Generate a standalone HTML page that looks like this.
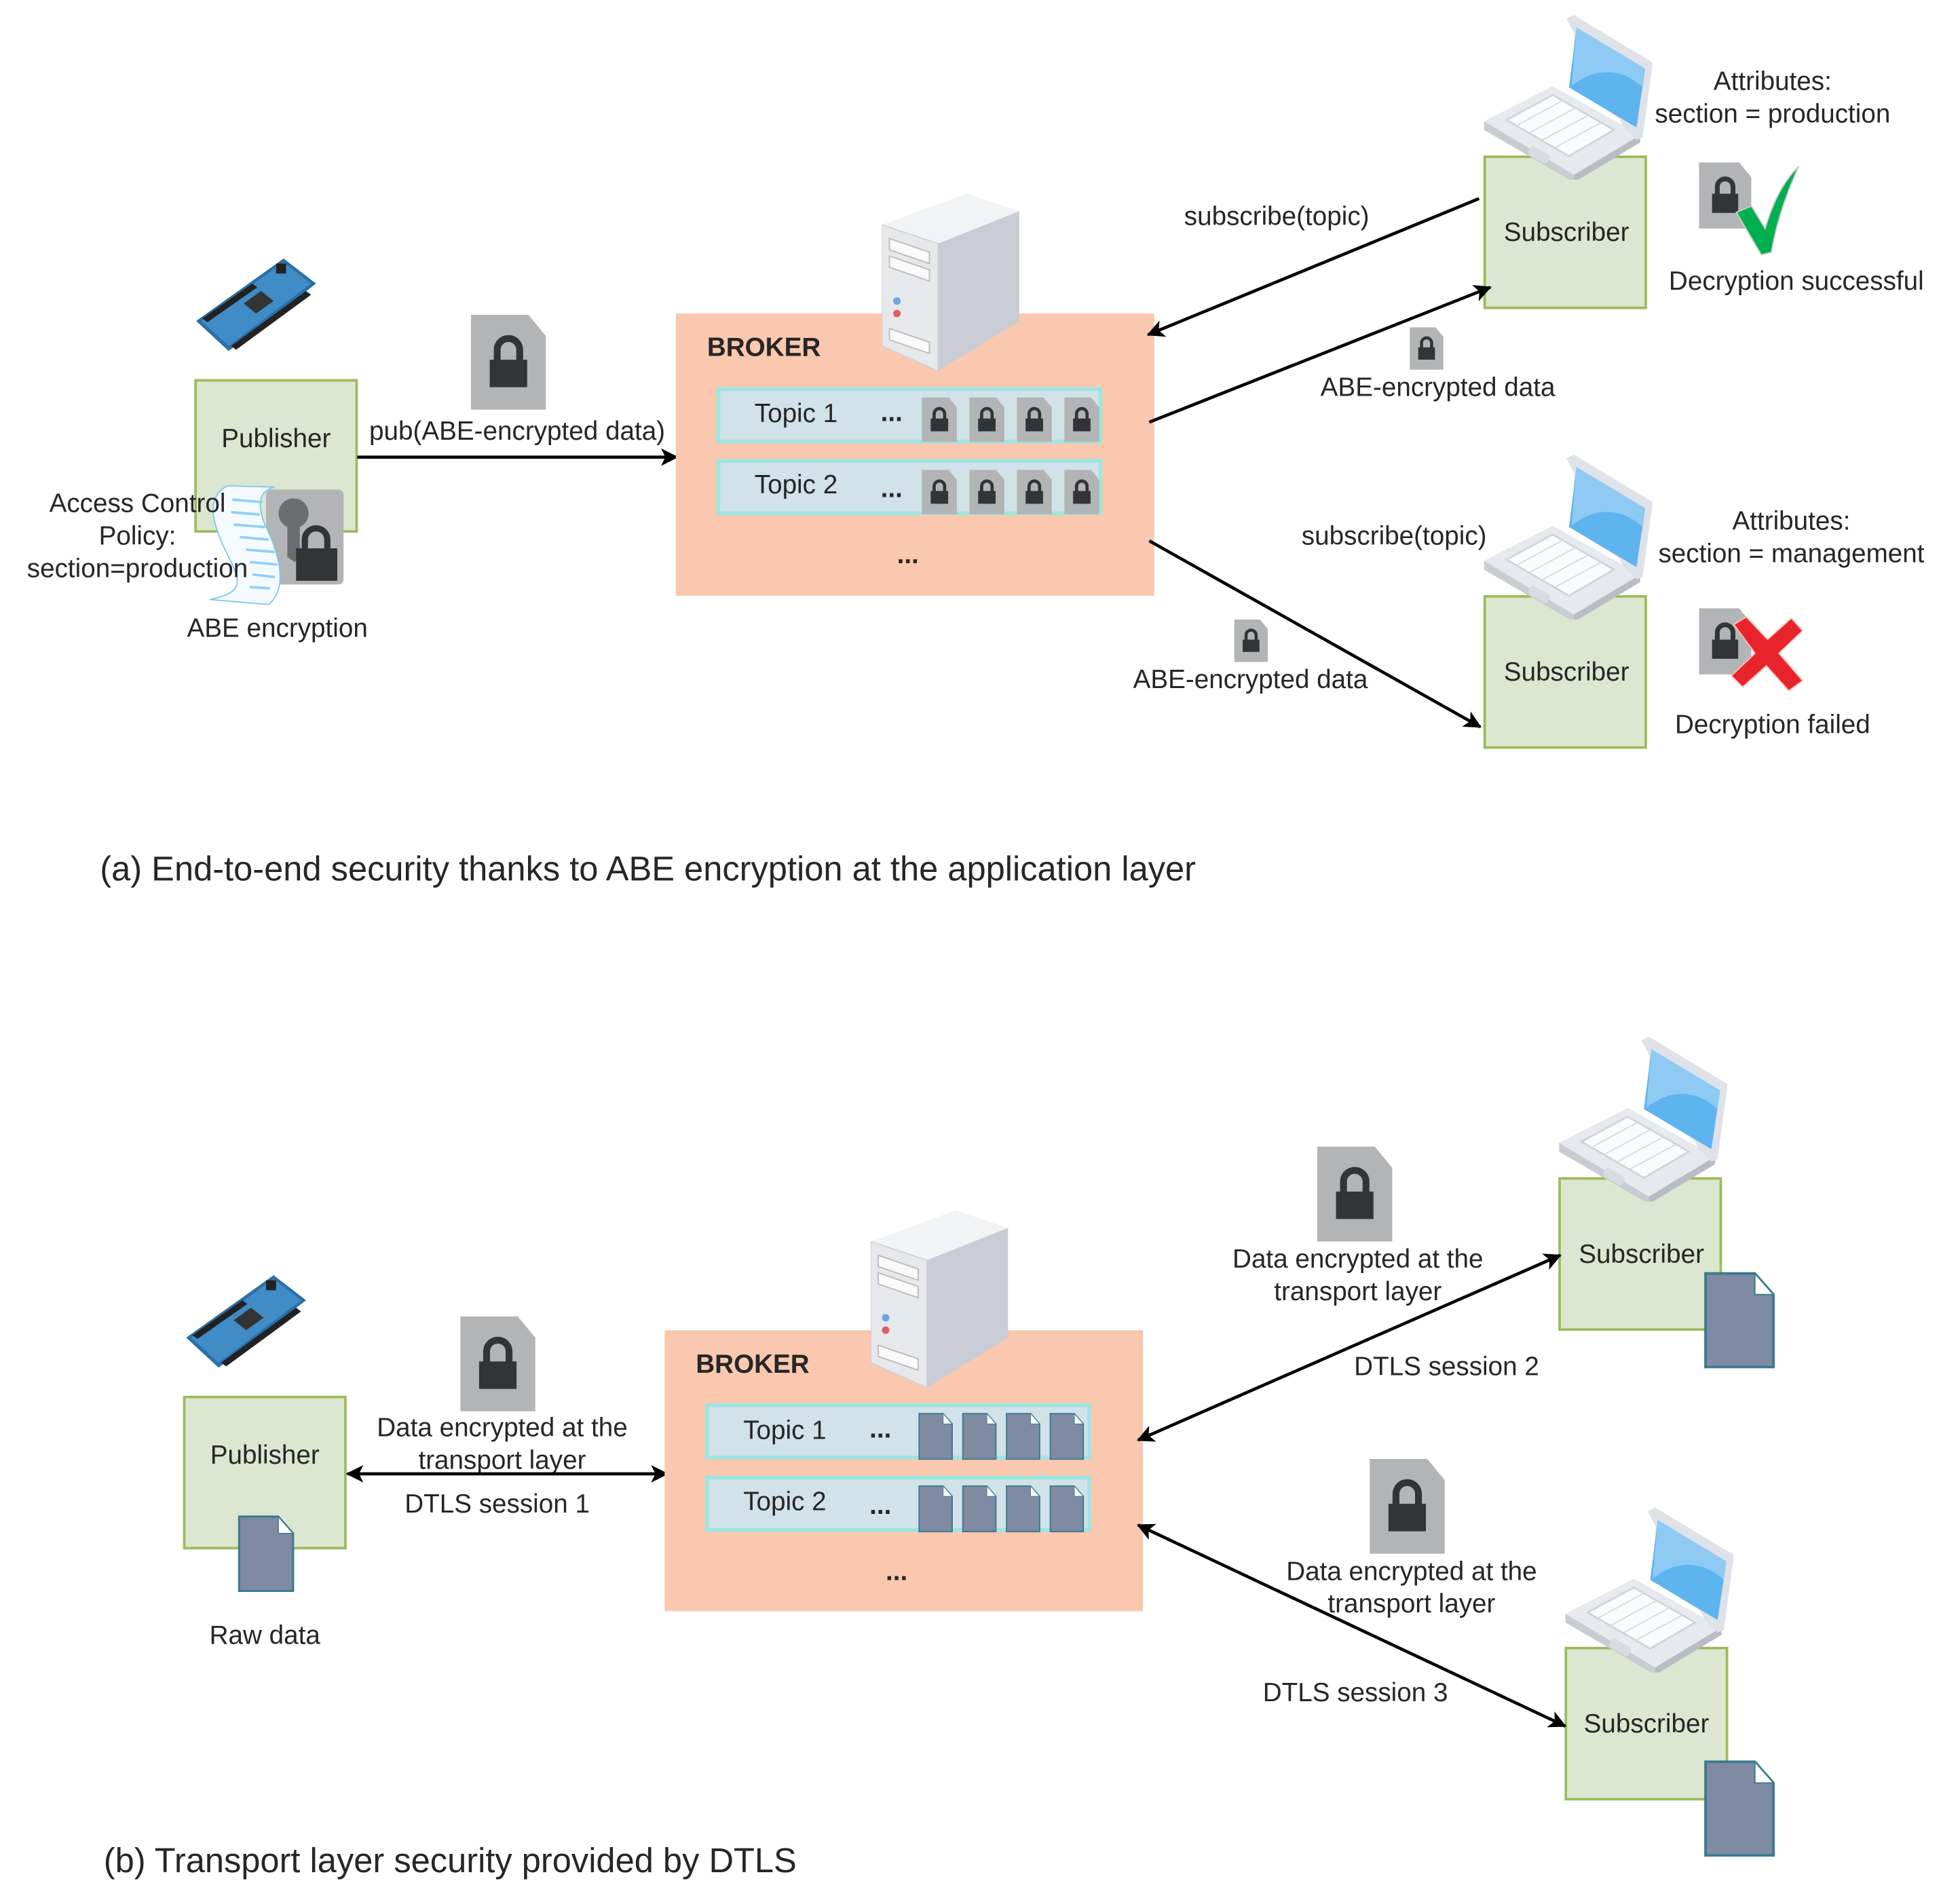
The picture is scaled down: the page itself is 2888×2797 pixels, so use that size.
<!DOCTYPE html>
<html><head><meta charset="utf-8"><style>
html,body{margin:0;padding:0;background:#fff;}
svg{display:block;}
text{font-family:"Liberation Sans",Arial,sans-serif;fill:#262626;}
</style></head><body>
<svg width="2888" height="2797" viewBox="0 0 1569 1519.6" xmlns="http://www.w3.org/2000/svg">
<defs>
<marker id="ahb" viewBox="0 0 12 12" refX="11" refY="6" markerWidth="14" markerHeight="14" orient="auto-start-reverse" markerUnits="userSpaceOnUse">
<path d="M0,0 L12,6 L0,12 L3,6 Z" fill="#000"/>
</marker>
<symbol id="lockdoc" viewBox="0 0 60 76">
<path d="M0,0 H46 L60,17 V76 H0 Z" fill="#b3b4b6"/>
<path d="M21,37 V28 a9,9 0 0 1 18,0 V37" fill="none" stroke="#333436" stroke-width="5.5"/>
<rect x="15" y="36" width="30" height="22" fill="#333436"/>
</symbol>
<symbol id="bluedoc" viewBox="0 0 56 76">
<path d="M1.5,1.5 H40 L54.5,18 V74.5 H1.5 Z" fill="#7f8aa3" stroke="#3a7a8f" stroke-width="2"/>
<path d="M40,1.5 V18 H54.5 Z" fill="#fff" stroke="#3a7a8f" stroke-width="1"/>
</symbol>
<symbol id="laptop" viewBox="0 0 135 132">
<polygon points="0,85 55,57 125,96 72,128" fill="#e7e9ee"/>
<polygon points="0,85 72,128 72,134 0,92" fill="#c9ccd3"/>
<polygon points="72,128 125,96 125,102 72,134" fill="#b9bcc4"/>
<polygon points="18,84 55,64 104,92 68,113" fill="#fafbfd" stroke="#d0d3da" stroke-width="1.5"/>
<g stroke="#d6d9df" stroke-width="1"><line x1="27" y1="88" x2="64" y2="68"/><line x1="37" y1="94" x2="74" y2="74"/><line x1="47" y1="100" x2="84" y2="80"/><line x1="57" y1="106" x2="94" y2="86"/></g>
<rect x="35" y="108" width="18" height="8" rx="3" transform="rotate(30 44 112)" fill="#d8dbe1"/>
<polygon points="66,3 72,0 135,38 127,98 122,100 112,90" fill="#dfe2e8"/>
<polygon points="73,8 130,42 123,92 113,86 70,58" fill="#dfe2e8"/>
<polygon points="74,10 129,43 122,90 68,58" fill="#5db4ee"/>
<path d="M74,10 L129,43 L127,58 C110,42 88,42 70,57 Z" fill="#8fcaf4"/>
</symbol>
<symbol id="server" viewBox="0 0 110 142">
<polygon points="0,25 68,0 110,14 45,40" fill="#f2f3f5"/>
<polygon points="0,25 45,40 45,142 0,122" fill="#e7e8eb" stroke="#d0d2d6"/>
<polygon points="45,40 110,14 110,102 45,142" fill="#c9ccd4"/>
<polygon points="6,36 38,47 38,56 6,45" fill="#fafafa" stroke="#bbb"/>
<polygon points="6,50 38,61 38,70 6,59" fill="#fafafa" stroke="#bbb"/>
<circle cx="12" cy="86" r="3" fill="#6aa7e0"/>
<circle cx="12" cy="96" r="3" fill="#e06060"/>
<polygon points="6,108 38,119 38,128 6,117" fill="#fafafa" stroke="#bbb"/>
</symbol>
<symbol id="board" viewBox="0 0 96 76">
<polygon points="0,50 70,0 96,20 26,74" fill="#2a6fa8"/>
<polygon points="4,50 70,3 92,20 26,70" fill="#3f8cc6"/>
<polygon points="5,48 45,20 49,23 9,51" fill="#222"/>
<polygon points="28,70 88,26 92,29 32,73" fill="#222"/>
<polygon points="38,36 52,26 62,34 48,44" fill="#333"/>
<rect x="64" y="4" width="8" height="8" fill="#222"/>
</symbol>
</defs>

<!-- ============ PART A ============ -->
<use href="#board" x="157" y="207" width="96" height="76"/>
<rect x="156.5" y="304.5" width="129" height="121" fill="#dde6d0" stroke="#9bbb59" stroke-width="2"/>
<text x="221" y="358" font-size="21" text-anchor="middle">Publisher</text>
<rect x="213" y="392" width="62" height="76" rx="4" fill="#b3b4b6"/>
<circle cx="235" cy="411" r="12" fill="#6b6d70"/>
<path d="M230,418 h10 v28 l-4,4 l-6,-4 Z" fill="#6b6d70"/>
<path d="M244,440 V432 a9,9 0 0 1 18,0 V440" fill="none" stroke="#333436" stroke-width="5"/>
<rect x="237" y="439" width="33" height="26" fill="#333436"/>
<path d="M182,389 C160,400 175,430 185,450 C195,470 190,475 168,480 L215,484 C232,470 222,440 212,420 C204,400 210,392 220,390 Z" fill="#f4faff" stroke="#7fc7ef" stroke-width="1"/>
<g stroke="#8fd0f5" stroke-width="2"><line x1="186" y1="400" x2="210" y2="402"/><line x1="185" y1="410" x2="208" y2="412"/><line x1="187" y1="420" x2="212" y2="422"/><line x1="192" y1="430" x2="215" y2="432"/><line x1="197" y1="440" x2="220" y2="442"/><line x1="200" y1="450" x2="222" y2="452"/><line x1="202" y1="460" x2="220" y2="462"/><line x1="200" y1="470" x2="216" y2="471"/></g>
<text x="110" y="410" font-size="21" text-anchor="middle">Access Control</text>
<text x="110" y="436" font-size="21" text-anchor="middle">Policy:</text>
<text x="110" y="462" font-size="21" text-anchor="middle">section=production</text>
<text x="222" y="510" font-size="21" text-anchor="middle">ABE encryption</text>

<use href="#lockdoc" x="377" y="252" width="60" height="76"/>
<text x="414" y="352" font-size="21" text-anchor="middle">pub(ABE-encrypted data)</text>
<line x1="286" y1="366" x2="542" y2="366" stroke="#000" stroke-width="2.5" marker-end="url(#ahb)"/>

<rect x="541" y="251" width="383" height="226" fill="#f9c8ae"/>
<use href="#server" x="706" y="155" width="110" height="142"/>
<text x="566" y="285" font-size="21" font-weight="bold">BROKER</text>
<rect x="575" y="311.5" width="306" height="42" fill="#d1e2e8" stroke="#9ce6e0" stroke-width="3"/>
<rect x="575" y="369" width="306" height="42" fill="#d1e2e8" stroke="#9ce6e0" stroke-width="3"/>
<text x="604" y="338" font-size="21">Topic 1</text>
<text x="604" y="395" font-size="21">Topic 2</text>
<text x="705" y="337" font-size="21" font-weight="bold">...</text>
<text x="705" y="398" font-size="21" font-weight="bold">...</text>
<use href="#lockdoc" x="738" y="318" width="28" height="36"/>
<use href="#lockdoc" x="776" y="318" width="28" height="36"/>
<use href="#lockdoc" x="814" y="318" width="28" height="36"/>
<use href="#lockdoc" x="852" y="318" width="28" height="36"/>
<use href="#lockdoc" x="738" y="376" width="28" height="36"/>
<use href="#lockdoc" x="776" y="376" width="28" height="36"/>
<use href="#lockdoc" x="814" y="376" width="28" height="36"/>
<use href="#lockdoc" x="852" y="376" width="28" height="36"/>
<text x="718" y="451" font-size="21" font-weight="bold">...</text>

<rect x="1188.5" y="125.5" width="129" height="121" fill="#dde6d0" stroke="#9bbb59" stroke-width="2"/>
<use href="#laptop" x="1188" y="12" width="135" height="132"/>
<text x="1254" y="193" font-size="21" text-anchor="middle">Subscriber</text>
<text x="1419" y="72" font-size="21" text-anchor="middle">Attributes:</text>
<text x="1419" y="98" font-size="21" text-anchor="middle">section = production</text>
<use href="#lockdoc" x="1360" y="130" width="42" height="53"/>
<path d="M1390,170 L1402,165 L1413,183 C1420,160 1428,145 1440,133 C1430,155 1422,178 1418,202 L1410,204 Z" fill="#00b050" stroke="#ccc" stroke-width="1"/>
<text x="1438" y="232" font-size="21" text-anchor="middle">Decryption successful</text>

<line x1="1184" y1="159" x2="919" y2="268" stroke="#000" stroke-width="2.5" marker-end="url(#ahb)"/>
<text x="1022" y="180" font-size="21" text-anchor="middle">subscribe(topic)</text>
<line x1="920" y1="338" x2="1193" y2="230" stroke="#000" stroke-width="2.5" marker-end="url(#ahb)"/>
<use href="#lockdoc" x="1128" y="262" width="28" height="34"/>
<text x="1151" y="317" font-size="21" text-anchor="middle">ABE-encrypted data</text>

<rect x="1188.5" y="477.5" width="129" height="121" fill="#dde6d0" stroke="#9bbb59" stroke-width="2"/>
<use href="#laptop" x="1188" y="364" width="135" height="132"/>
<text x="1254" y="545" font-size="21" text-anchor="middle">Subscriber</text>
<text x="1116" y="436" font-size="21" text-anchor="middle">subscribe(topic)</text>
<text x="1434" y="424" font-size="21" text-anchor="middle">Attributes:</text>
<text x="1434" y="450" font-size="21" text-anchor="middle">section = management</text>
<use href="#lockdoc" x="1360" y="487" width="42" height="53"/>
<path d="M1388,500 L1398,494 L1415,512 L1434,495 L1443,505 L1424,523 L1443,545 L1432,553 L1414,533 L1395,550 L1386,541 L1405,523 Z" fill="#e8232a" stroke="#fbb" stroke-width="1"/>
<text x="1419" y="587" font-size="21" text-anchor="middle">Decryption failed</text>
<line x1="920" y1="433" x2="1185" y2="582" stroke="#000" stroke-width="2.5" marker-end="url(#ahb)"/>
<use href="#lockdoc" x="987" y="496" width="29" height="34"/>
<text x="1001" y="551" font-size="21" text-anchor="middle">ABE-encrypted data</text>

<text x="80" y="705" font-size="27.5">(a) End-to-end security thanks to ABE encryption at the application layer</text>

<!-- ============ PART B ============ -->
<use href="#board" x="149" y="1021" width="96" height="76"/>
<rect x="147.5" y="1118.5" width="129" height="121" fill="#dde6d0" stroke="#9bbb59" stroke-width="2"/>
<text x="212" y="1172" font-size="21" text-anchor="middle">Publisher</text>
<use href="#bluedoc" x="189" y="1213" width="48" height="62"/>
<text x="212" y="1316" font-size="21" text-anchor="middle">Raw data</text>

<use href="#lockdoc" x="368" y="1054" width="61" height="76"/>
<text x="402" y="1150" font-size="21" text-anchor="middle">Data encrypted at the</text>
<text x="402" y="1176" font-size="21" text-anchor="middle">transport layer</text>
<text x="398" y="1211" font-size="21" text-anchor="middle">DTLS session 1</text>
<line x1="278" y1="1180" x2="534" y2="1180" stroke="#000" stroke-width="2.5" marker-start="url(#ahb)" marker-end="url(#ahb)"/>

<rect x="532" y="1065" width="383" height="225" fill="#f9c8ae"/>
<use href="#server" x="697" y="969" width="110" height="142"/>
<text x="557" y="1099" font-size="21" font-weight="bold">BROKER</text>
<rect x="566" y="1125" width="306" height="42" fill="#d1e2e8" stroke="#9ce6e0" stroke-width="3"/>
<rect x="566" y="1183" width="306" height="42" fill="#d1e2e8" stroke="#9ce6e0" stroke-width="3"/>
<text x="595" y="1152" font-size="21">Topic 1</text>
<text x="595" y="1209" font-size="21">Topic 2</text>
<text x="696" y="1151" font-size="21" font-weight="bold">...</text>
<text x="696" y="1212" font-size="21" font-weight="bold">...</text>
<use href="#bluedoc" x="734" y="1131" width="30" height="38"/>
<use href="#bluedoc" x="769" y="1131" width="30" height="38"/>
<use href="#bluedoc" x="804" y="1131" width="30" height="38"/>
<use href="#bluedoc" x="839" y="1131" width="30" height="38"/>
<use href="#bluedoc" x="734" y="1189" width="30" height="38"/>
<use href="#bluedoc" x="769" y="1189" width="30" height="38"/>
<use href="#bluedoc" x="804" y="1189" width="30" height="38"/>
<use href="#bluedoc" x="839" y="1189" width="30" height="38"/>
<text x="709" y="1265" font-size="21" font-weight="bold">...</text>

<rect x="1248.5" y="943.5" width="129" height="121" fill="#dde6d0" stroke="#9bbb59" stroke-width="2"/>
<use href="#laptop" x="1248" y="830" width="135" height="132"/>
<text x="1314" y="1011" font-size="21" text-anchor="middle">Subscriber</text>
<use href="#bluedoc" x="1363" y="1018" width="59" height="78"/>
<use href="#lockdoc" x="1054" y="918" width="61" height="76"/>
<text x="1087" y="1015" font-size="21" text-anchor="middle">Data encrypted at the</text>
<text x="1087" y="1041" font-size="21" text-anchor="middle">transport layer</text>
<text x="1158" y="1101" font-size="21" text-anchor="middle">DTLS session 2</text>
<line x1="911" y1="1153" x2="1249" y2="1005" stroke="#000" stroke-width="2.5" marker-start="url(#ahb)" marker-end="url(#ahb)"/>

<rect x="1253.5" y="1319.5" width="129" height="121" fill="#dde6d0" stroke="#9bbb59" stroke-width="2"/>
<use href="#laptop" x="1253" y="1207" width="135" height="132"/>
<text x="1318" y="1387" font-size="21" text-anchor="middle">Subscriber</text>
<use href="#bluedoc" x="1363" y="1409" width="59" height="78"/>
<use href="#lockdoc" x="1096" y="1168" width="61" height="76"/>
<text x="1130" y="1265" font-size="21" text-anchor="middle">Data encrypted at the</text>
<text x="1130" y="1291" font-size="21" text-anchor="middle">transport layer</text>
<text x="1085" y="1362" font-size="21" text-anchor="middle">DTLS session 3</text>
<line x1="911" y1="1221" x2="1253" y2="1382" stroke="#000" stroke-width="2.5" marker-start="url(#ahb)" marker-end="url(#ahb)"/>

<text x="83" y="1499" font-size="27.5">(b) Transport layer security provided by DTLS</text>
</svg>
</body></html>
